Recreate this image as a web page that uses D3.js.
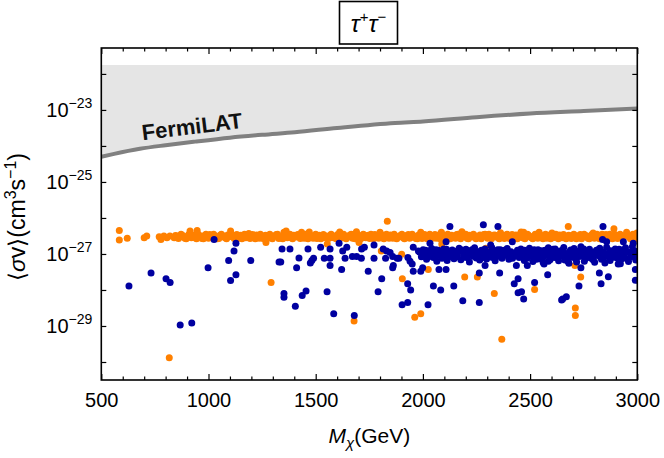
<!DOCTYPE html>
<html><head><meta charset="utf-8">
<script src="https://cdn.jsdelivr.net/npm/d3@7"></script>
<style>body{margin:0;background:#fff} svg{display:block} text{font-family:"Liberation Sans",Arial,Helvetica,sans-serif}</style>
</head><body><svg id="c" width="664" height="458"></svg>
<script>
// ---------- data ----------
const xMajorTicks = [500,1000,1500,2000,2500,3000];
const yLabelExps = [-29,-27,-25,-23];
const yTickExps = [-30,-29,-28,-27,-26,-25,-24,-23,-22];
// FermiLAT limit: mass (GeV) and log10(<sigma v>)
const fermiMass = [500,560,680,800,937,1100,1250,1403,1600,1870,2000,2250,2500,2750,3000];
const fermiLog  = [-24.30,-24.22,-24.08,-23.98,-23.88,-23.77,-23.69,-23.62,-23.50,-23.36,-23.32,-23.20,-23.10,-23.03,-22.96];
const fermiShadeTopLog = -21.75;
// scatter points: [mass GeV, log10(<sigma v>)]
const orangeBand = [[584,-26.35],[584,-26.61],[621,-26.56],[700,-26.55],[712,-26.50],[770,-26.52],[778,-26.60],[792,-26.50],[806,-26.55],[820,-26.50],
[840,-26.55],[852,-26.50],[866,-26.53],[878,-26.48],[890,-26.56],[902,-26.51],[914,-26.36],[925,-26.54],[936,-26.47],[947,-26.35],[958,-26.52],[970,-26.57],[982,-26.49],[994,-26.53],[1006,-26.46],[1018,-26.55],[1030,-26.50],[1042,-26.58],[1054,-26.48],[1066,-26.52],[1078,-26.55],[1090,-26.47],[1103,-26.36],[1114,-26.53],[1126,-26.50],[1138,-26.56],[1150,-26.48],[1162,-26.52],[1174,-26.55],[1188,-26.43],[1200,-26.51],[1212,-26.54],[1224,-26.47],[1236,-26.56],[1248,-26.50],[1260,-26.53],[1268,-26.68],[1280,-26.49],[1292,-26.55],[1304,-26.51],[1316,-26.46],[1328,-26.57],[1340,-26.52],[1352,-26.40],[1362,-26.36],[1374,-26.50],[1386,-26.55],[1398,-26.48],[1410,-26.53],[1422,-26.50],[1434,-26.40],[1446,-26.56],[1458,-26.47],[1470,-26.39],[1482,-26.53],[1494,-26.50],[1506,-26.57],[1518,-26.48],[1530,-26.52],[1542,-26.55],[1554,-26.72],[1566,-26.49],[1578,-26.54],[1590,-26.51],[1602,-26.46],[1612,-26.39],[1624,-26.55],[1636,-26.50],[1648,-26.53],[1660,-26.47],[1672,-26.56],[1690,-26.38],[1702,-26.68],[1704,-26.51],[1716,-26.54],[1728,-26.48],[1740,-26.52],[1752,-26.57],[1764,-26.50],[1776,-26.46],[1788,-26.53],[1800,-26.40],[1812,-26.55],[1824,-26.49],[1836,-26.52],[1848,-26.47],[1860,-26.56],[1872,-26.50],[1884,-26.53],[1896,-26.48],[1908,-26.55],[1920,-26.51],[1932,-26.46],[1944,-26.54],[1956,-26.50],[1968,-26.57],[1980,-26.47],[1990,-26.40],[2002,-26.53],[2014,-26.50],[2026,-26.55],[2038,-26.48],[2050,-26.52],[2062,-26.56],[2074,-26.47],[2086,-26.40],[2098,-26.53],[2110,-26.50],[2122,-26.55],[2134,-26.48],[2146,-26.52],[2158,-26.46],[2170,-26.54],[2182,-26.38],[2194,-26.51],[2206,-26.56],[2218,-26.48],[2230,-26.53],[2242,-26.50],[2254,-26.55],[2266,-26.47],[2278,-26.52],[2290,-26.45],[2302,-26.56],[2314,-26.50],[2326,-26.53],[2338,-26.48],[2350,-26.55],[2362,-26.41],[2374,-26.51],[2386,-26.54],[2398,-26.48],[2410,-26.52],[2422,-26.56],[2434,-26.47],[2446,-26.50],[2458,-26.39],[2470,-26.40],[2482,-26.53],[2494,-26.49],[2506,-26.55],[2518,-26.51],[2530,-26.46],[2542,-26.40],[2554,-26.53],[2566,-26.50],[2578,-26.56],[2590,-26.48],[2602,-26.42],[2614,-26.54],[2626,-26.50],[2638,-26.47],[2650,-26.55],[2662,-26.51],[2678,-26.24],[2686,-26.53],[2698,-26.48],[2710,-26.55],[2722,-26.50],[2734,-26.46],[2746,-26.53],[2758,-26.49],[2770,-26.56],[2782,-26.50],[2794,-26.42],[2806,-26.52],[2818,-26.55],[2830,-26.48],[2842,-26.52],[2854,-26.46],[2866,-26.55],[2878,-26.50],[2891,-26.30],[2902,-26.53],[2914,-26.49],[2926,-26.55],[2938,-26.51],[2950,-26.40],[2962,-26.53],[2974,-26.48],[2986,-26.55],[2998,-26.42],
[846,-26.49],[860,-26.57],[872,-26.45],[884,-26.52],[896,-26.58],[908,-26.46],[920,-26.55],[932,-26.50],[944,-26.58],[952,-26.45],[964,-26.50],[976,-26.58],[988,-26.45],[1000,-26.56],[1012,-26.51],[1024,-26.45],[1036,-26.53],[1048,-26.57],[1060,-26.45],[1072,-26.50],[1084,-26.58],[1096,-26.52],[1108,-26.45],[1120,-26.57],[1132,-26.46],[1144,-26.52],[1156,-26.58],[1168,-26.45],[1180,-26.50],[1194,-26.57],[1206,-26.46],[1218,-26.58],[1230,-26.50],[1242,-26.45],[1254,-26.57],[1266,-26.48],[1276,-26.56],[1286,-26.45],[1298,-26.58],[1310,-26.50],[1322,-26.45],[1334,-26.55],[1346,-26.58],[1358,-26.47],[1368,-26.55],[1380,-26.45],[1392,-26.58],[1404,-26.50],[1416,-26.46],[1428,-26.57],[1440,-26.51],[1452,-26.45],[1464,-26.58],[1476,-26.48],[1488,-26.56],[1500,-26.45],[1512,-26.52],[1524,-26.58],[1536,-26.46],[1548,-26.50],[1560,-26.57],[1572,-26.45],[1584,-26.55],[1596,-26.58],[1608,-26.48],[1618,-26.55],[1630,-26.45],[1642,-26.58],[1654,-26.50],[1666,-26.45],[1678,-26.52],[1684,-26.58],[1696,-26.46],[1710,-26.58],[1722,-26.45],[1734,-26.55],[1746,-26.48],[1758,-26.45],[1770,-26.58],[1782,-26.50],[1794,-26.56],[1806,-26.46],[1818,-26.58],[1830,-26.45],[1842,-26.56],[1854,-26.50],[1866,-26.45],[1878,-26.58],[1890,-26.52],[1902,-26.45],[1914,-26.58],[1926,-26.49],[1938,-26.56],[1950,-26.45],[1962,-26.52],[1974,-26.58],[1986,-26.50],[1996,-26.57],[2008,-26.46],[2020,-26.58],[2032,-26.45],[2044,-26.56],[2056,-26.46],[2068,-26.51],[2080,-26.58],[2092,-26.46],[2104,-26.57],[2116,-26.45],[2128,-26.58],[2140,-26.50],[2152,-26.56],[2164,-26.45],[2176,-26.58],[2188,-26.49],[2200,-26.45],[2212,-26.58],[2224,-26.50],[2236,-26.45],[2248,-26.58],[2260,-26.51],[2272,-26.58],[2284,-26.46],[2296,-26.51],[2308,-26.45],[2320,-26.58],[2332,-26.47],[2344,-26.51],[2356,-26.58],[2368,-26.47],[2380,-26.57],[2392,-26.45],[2404,-26.57],[2416,-26.46],[2428,-26.51],[2440,-26.58],[2452,-26.46],[2464,-26.55],[2476,-26.58],[2488,-26.45],[2500,-26.52],[2512,-26.58],[2524,-26.45],[2536,-26.56],[2548,-26.47],[2560,-26.58],[2572,-26.45],[2584,-26.52],[2596,-26.58],[2608,-26.47],[2620,-26.45],[2632,-26.58],[2644,-26.52],[2656,-26.46],[2668,-26.58],[2680,-26.48],[2692,-26.57],[2704,-26.45],[2716,-26.58],[2728,-26.52],[2740,-26.58],[2752,-26.45],[2764,-26.50],[2776,-26.58],[2788,-26.46],[2800,-26.56],[2812,-26.45],[2824,-26.58],[2836,-26.45],[2848,-26.57],[2860,-26.50],[2872,-26.45],[2884,-26.58],[2896,-26.46],[2908,-26.57],[2920,-26.45],[2932,-26.58],[2944,-26.50],[2956,-26.46],[2968,-26.58],[2980,-26.45],[2992,-26.58]];
const orangeScatter = [[1292,-27.79],[817,-29.88],[1679,-28.86],[1806,-26.92],[1834,-26.09],[1901,-27.01],[1904,-27.69],[1962,-28.76],[1990,-28.66],[2025,-27.43],[2088,-26.72],[2195,-27.64],[2254,-27.64],[2294,-26.84],[2333,-28.10],[2368,-29.37],[2521,-27.99],[2709,-27.32],[2736,-27.64],[2711,-28.50],[2711,-28.71]];
const blueBand = [[1985,-26.95],[1993,-27.08],[2001,-26.88],[2009,-27.02],[2017,-27.15],[2025,-26.92],[2033,-27.05],[2041,-26.85],[2049,-27.10],[2057,-26.98],[2065,-27.20],[2073,-26.90],[2081,-27.03],[2089,-27.12],[2097,-26.86],[2105,-27.00],[2113,-27.18],[2121,-26.94],[2129,-27.07],[2137,-26.89],[2145,-27.13],[2153,-26.97],[2161,-27.04],[2169,-26.84],[2177,-27.16],[2185,-26.93],[2193,-27.09],[2201,-26.87],[2209,-27.01],[2217,-27.22],[2225,-26.91],[2233,-27.06],[2241,-26.83],[2249,-27.11],[2257,-26.99],[2265,-27.17],[2273,-26.90],[2281,-27.04],[2289,-26.86],[2297,-27.14],[2305,-26.96],[2313,-27.08],[2321,-26.82],[2329,-27.02],[2337,-27.19],[2345,-26.92],[2353,-27.06],[2361,-26.88],[2369,-27.12],[2377,-26.97],[2385,-27.03],[2393,-26.85],[2401,-27.15],[2411,-26.94],[2421,-27.07],[2431,-27.00],[2441,-26.90],[2449,-27.10],[2457,-26.86],[2465,-27.04],[2473,-27.18],[2481,-26.93],[2489,-27.08],[2497,-26.84],[2505,-27.01],[2513,-27.21],[2521,-26.95],[2529,-27.06],[2537,-26.88],[2545,-27.13],[2553,-26.98],[2561,-27.24],[2569,-26.90],[2577,-27.03],[2585,-26.83],[2593,-27.16],[2601,-26.96],[2609,-27.09],[2617,-26.86],[2625,-27.02],[2633,-27.19],[2641,-26.92],[2649,-27.05],[2657,-26.82],[2665,-27.11],[2673,-26.99],[2681,-27.26],[2689,-26.89],[2697,-27.04],[2705,-26.85],[2713,-27.14],[2721,-26.95],[2729,-27.07],[2737,-26.80],[2745,-27.01],[2753,-27.20],[2761,-26.93],[2769,-27.06],[2777,-26.87],[2785,-27.12],[2793,-26.97],[2801,-27.23],[2809,-26.90],[2817,-27.03],[2825,-26.84],[2833,-27.15],[2841,-26.94],[2849,-27.08],[2857,-26.81],[2865,-27.00],[2873,-27.18],[2881,-26.92],[2889,-27.05],[2897,-26.86],[2905,-27.11],[2913,-26.98],[2921,-27.27],[2929,-26.89],[2937,-27.03],[2945,-26.83],[2953,-27.14],[2961,-26.95],[2969,-27.08],[2977,-26.80],[2985,-27.02],[2993,-27.17],[2999,-26.93],
[2462,-27.00],[2474,-26.90],[2486,-27.12],[2497,-26.97],[2508,-27.06],[2519,-26.88],[2530,-27.15],[2541,-27.00],[2552,-26.91],[2563,-27.08],[2574,-26.96],[2585,-27.20],[2596,-27.03],[2607,-26.87],[2618,-27.10],[2629,-26.98],[2640,-27.05],[2651,-26.90],[2662,-27.17],[2673,-27.02],[2684,-26.94],[2695,-27.09],[2706,-26.99],[2717,-27.22],[2728,-26.92],[2739,-27.05],[2750,-26.86],[2761,-27.11],[2772,-27.00],[2783,-26.95],[2794,-27.16],[2805,-27.04],[2816,-26.89],[2827,-27.08],[2838,-26.97],[2849,-27.25],[2860,-27.02],[2871,-26.91],[2882,-27.10],[2893,-26.98],[2904,-27.06],[2915,-26.87],[2926,-27.14],[2937,-27.01],[2948,-26.93],[2959,-27.21],[2970,-27.05],[2981,-26.90],[2992,-27.12],[3000,-27.00],
[2000,-27.00],[2020,-27.10],[2045,-26.96],[2070,-27.02],[2095,-26.93],[2118,-27.06],[2142,-27.00],[2160,-26.92],[2190,-27.03],[2215,-26.96],[2238,-27.00],[2262,-26.94],[2285,-27.10],[2310,-27.00],[2333,-26.93],[2358,-27.05],[2380,-26.90],[2405,-27.02],
[2012,-26.90],[2037,-27.06],[2061,-26.88],[2085,-27.07],[2110,-26.87],[2134,-27.02],[2157,-27.08],[2182,-26.89],[2206,-27.10],[2229,-26.88],[2252,-27.04],[2277,-26.95],[2300,-27.02],[2325,-27.10],[2349,-26.88],[2372,-27.06],[2396,-26.96],[2418,-27.12],[2436,-26.97],[2455,-27.00]];
const blueScatter = [[629,-27.89],[732,-27.53],[802,-27.69],[821,-27.79],[868,-28.97],[922,-28.92],[998,-27.38],[1026,-26.60],[1094,-27.18],[1103,-27.74],[1119,-26.92],[1128,-26.70],[1128,-27.58],[1197,-27.18],[1329,-27.22],[1337,-27.22],[1343,-26.86],[1352,-28.10],[1352,-28.20],[1380,-26.86],[1405,-28.45],[1411,-27.38],[1422,-27.11],[1437,-28.15],[1455,-28.03],[1464,-26.86],[1475,-27.25],[1482,-27.18],[1490,-27.12],[1523,-26.81],[1540,-27.12],[1553,-28.05],[1567,-26.86],[1567,-27.12],[1567,-27.32],[1584,-28.66],[1609,-26.70],[1621,-27.43],[1626,-26.92],[1637,-27.12],[1645,-26.81],[1671,-27.07],[1691,-27.07],[1680,-28.71],[1714,-26.86],[1727,-26.81],[1713,-27.12],[1745,-27.48],[1772,-26.75],[1772,-27.12],[1791,-28.05],[1808,-27.69],[1815,-26.86],[1831,-26.92],[1847,-26.96],[1859,-27.07],[1862,-27.32],[1859,-27.38],[1826,-27.12],[1880,-27.12],[1888,-27.12],[1903,-28.41],[1929,-28.35],[1929,-27.83],[1943,-28.00],[1930,-27.10],[1940,-27.20],[1950,-27.28],[1955,-26.81],[1955,-27.48],[1979,-26.92],[1990,-27.48],[1999,-27.38],[2024,-28.41],[2033,-26.70],[2049,-27.89],[2075,-27.43],[2083,-28.00],[2108,-26.66],[2108,-27.43],[2126,-26.24],[2144,-27.89],[2186,-28.30],[2263,-28.35],[2263,-27.53],[2282,-26.19],[2290,-27.32],[2316,-26.75],[2350,-26.24],[2358,-27.53],[2417,-26.66],[2426,-27.83],[2444,-27.69],[2444,-28.08],[2460,-28.05],[2470,-28.25],[2436,-27.32],[2487,-27.32],[2521,-27.79],[2565,-27.28],[2582,-27.58],[2647,-28.28],[2652,-28.25],[2669,-28.19],[2677,-27.21],[2728,-27.89],[2737,-27.38],[2823,-27.53],[2831,-27.83],[2840,-26.24],[2838,-26.60],[2857,-26.66],[2865,-27.63],[2911,-27.28],[2935,-26.66],[2981,-26.70],[2991,-27.73],[2991,-27.43],[2997,-27.12]];

// ---------- layout ----------
const L=101.3, R=637.3, T=48, B=380;
const svg = d3.select('#c');
const x = d3.scaleLinear().domain([500,3000]).range([L,R]);
const y = d3.scaleLog().domain([Math.pow(10,-30.5), Math.pow(10,-21.28)]).range([B,T]);
const p10 = e => Math.pow(10,e);

svg.append('clipPath').attr('id','clip').append('rect').attr('x',L).attr('y',T).attr('width',R-L).attr('height',B-T);
const plot = svg.append('g').attr('clip-path','url(#clip)');

const fermi = fermiMass.map((m,i)=>[m,p10(fermiLog[i])]);
plot.append('path').datum(fermi)
  .attr('d', d3.area().x(d=>x(d[0])).y0(y(p10(fermiShadeTopLog))).y1(d=>y(d[1])).curve(d3.curveMonotoneX))
  .attr('fill','#e5e5e5');
plot.append('path').datum(fermi)
  .attr('d', d3.line().x(d=>x(d[0])).y(d=>y(d[1])).curve(d3.curveMonotoneX))
  .attr('fill','none').attr('stroke','#808080').attr('stroke-width',4);

function dots(data,color){
  plot.append('g').selectAll('circle').data(data).join('circle')
    .attr('cx',d=>x(d[0])).attr('cy',d=>y(p10(d[1]))).attr('r',3.5).attr('fill',color);
}
dots(orangeBand,'#ff8000');
dots(orangeScatter,'#ff8000');
dots(blueBand,'#0000a0');
dots(blueScatter,'#0000a0');

// FermiLAT label
svg.append('text').attr('transform',`translate(${x(693)},${y(p10(-23.84))}) rotate(-7)`)
  .attr('font-weight','bold').attr('font-size',22).attr('fill','#111').text('FermiLAT');

// ---------- axes ----------
const xMinor = d3.range(600,3000,100).filter(v=>v%500!==0);
function styleAxis(g){ g.select('.domain').remove(); g.selectAll('line').attr('stroke','#000').attr('stroke-width',1.2); }
svg.append('g').attr('transform',`translate(0,${B})`)
  .call(d3.axisBottom(x).tickValues(xMajorTicks).tickSize(-6).tickPadding(13).tickFormat(d3.format('d')))
  .call(styleAxis).call(g=>g.selectAll('text').attr('font-size',20).attr('fill','#000').style('font-family','"Liberation Sans",Arial,sans-serif'));
svg.append('g').attr('transform',`translate(0,${B})`)
  .call(d3.axisBottom(x).tickValues(xMinor).tickSize(-3.5).tickFormat('')).call(styleAxis);
svg.append('g').attr('transform',`translate(0,${T})`)
  .call(d3.axisTop(x).tickValues(xMajorTicks).tickSize(-6).tickFormat('')).call(styleAxis);
svg.append('g').attr('transform',`translate(0,${T})`)
  .call(d3.axisTop(x).tickValues(xMinor).tickSize(-3.5).tickFormat('')).call(styleAxis);
const yT = yTickExps.map(p10);
svg.append('g').attr('transform',`translate(${L},0)`)
  .call(d3.axisLeft(y).tickValues(yT).tickSize(-5).tickFormat('')).call(styleAxis);
svg.append('g').attr('transform',`translate(${R},0)`)
  .call(d3.axisRight(y).tickValues(yT).tickSize(-5).tickFormat('')).call(styleAxis);

const yl = svg.append('g').selectAll('text').data(yLabelExps).join('text')
  .attr('x',L-9).attr('y',d=>y(p10(d))+7).attr('text-anchor','end').attr('font-size',20).attr('fill','#000');
yl.append('tspan').text('10');
yl.append('tspan').attr('dy',-9).attr('font-size',14).text(d=>'\u2212'+Math.abs(d));

svg.append('rect').attr('x',L).attr('y',T).attr('width',R-L).attr('height',B-T)
  .attr('fill','none').attr('stroke','#000').attr('stroke-width',1.6);

// axis titles
const xt = svg.append('text').attr('x',(L+R)/2).attr('y',443).attr('text-anchor','middle').attr('font-size',21).attr('fill','#000');
xt.append('tspan').attr('font-style','italic').text('M');
xt.append('tspan').attr('font-style','italic').attr('font-size',15).attr('dy',5).text('\u03c7');
xt.append('tspan').attr('dy',-5).text('(GeV)');

const ytt = svg.append('text').attr('transform',`translate(25,${(T+B)/2+3}) rotate(-90)`).attr('text-anchor','middle').attr('font-size',23).attr('fill','#000');
ytt.append('tspan').text('\u27e8');
ytt.append('tspan').attr('font-style','italic').text('\u03c3');
ytt.append('tspan').text('v\u27e9(cm');
ytt.append('tspan').attr('font-size',16).attr('dy',-9).text('3');
ytt.append('tspan').attr('dy',9).text('s');
ytt.append('tspan').attr('font-size',16).attr('dy',-9).text('\u22121');
ytt.append('tspan').attr('dy',9).text(')');

// title box
svg.append('rect').attr('x',339.5).attr('y',1.5).attr('width',58).attr('height',42.5).attr('fill','#fff').attr('stroke','#000').attr('stroke-width',1.6);
const tt = svg.append('text').attr('x',368.5).attr('y',32).attr('text-anchor','middle').attr('font-size',24).attr('fill','#000');
tt.append('tspan').attr('font-style','italic').text('\u03c4');
tt.append('tspan').attr('font-size',15).attr('dy',-10).text('+');
tt.append('tspan').attr('font-style','italic').attr('dy',10).text('\u03c4');
tt.append('tspan').attr('font-size',15).attr('dy',-10).text('\u2212');
</script></body></html>
